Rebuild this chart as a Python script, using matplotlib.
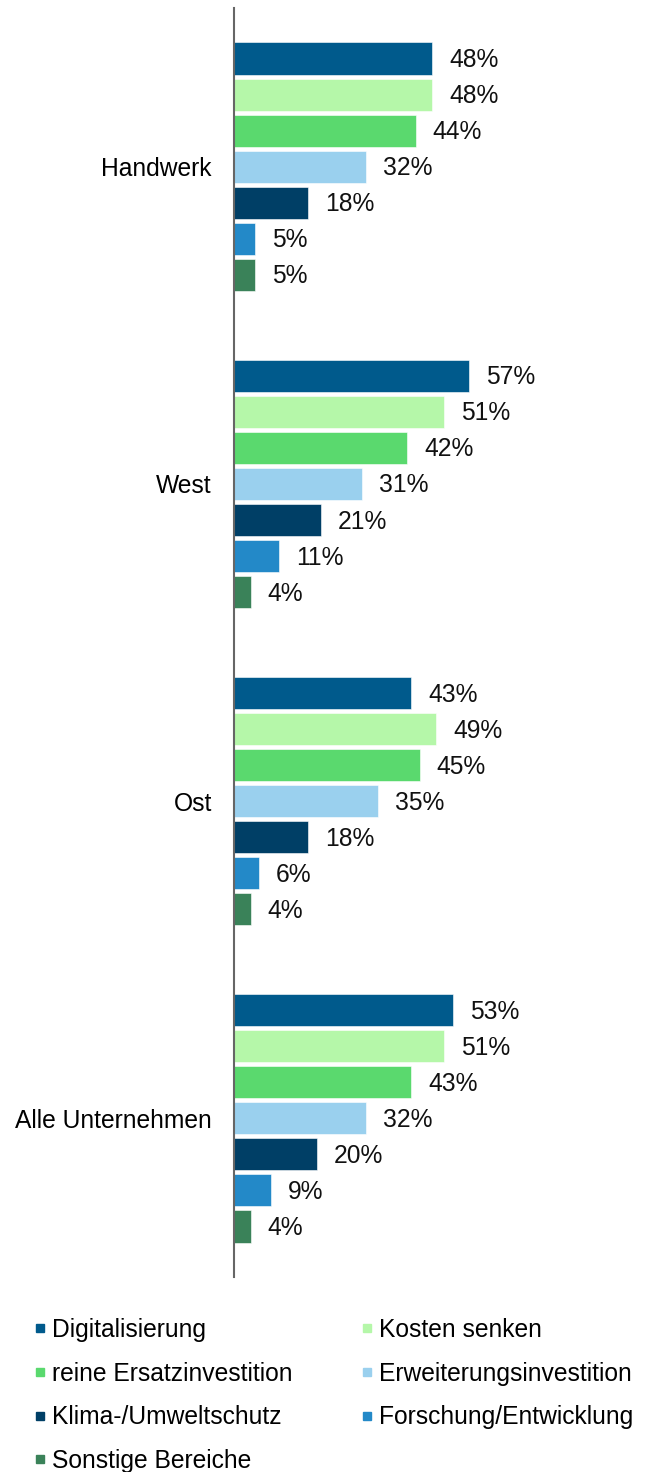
import matplotlib
matplotlib.use("Agg")
import matplotlib.pyplot as plt
from matplotlib.lines import Line2D
import numpy as np

plt.rcParams['font.family'] = ['Liberation Sans', 'DejaVu Sans']

categories = ["Handwerk", "West", "Ost", "Alle Unternehmen"]
series_names = ["Digitalisierung", "Kosten senken", "reine Ersatzinvestition",
                "Erweiterungsinvestition", "Klima-/Umweltschutz",
                "Forschung/Entwicklung", "Sonstige Bereiche"]
digitalisierung = [48, 57, 43, 53]
kosten_senken = [48, 51, 49, 51]
ersatz = [44, 42, 45, 43]
erweiterung = [32, 31, 35, 32]
klima = [18, 21, 18, 20]
forschung = [5, 11, 6, 9]
sonstige = [5, 4, 4, 4]
values = [digitalisierung, kosten_senken, ersatz, erweiterung, klima, forschung, sonstige]
colors = ["#005a8c", "#b5f7a9", "#5ad96e", "#9ad0ee", "#003f66", "#2389c8", "#3a8259"]

FS = 17.7
W, H = 645, 1472
fig = plt.figure(figsize=(W / 100, H / 100), dpi=100)
ax = fig.add_axes([234 / W, 1 - 1277 / H, (W - 234) / W, (1277 - 8) / H])

step = 0.1136
bh = 0.101
n = len(series_names)
y0 = np.arange(len(categories))
for i, (name, vals, c) in enumerate(zip(series_names, values, colors)):
    ys = y0 + (i - (n - 1) / 2) * step
    ax.barh(ys, vals, height=bh, color=c, edgecolor="white", linewidth=0.4, label=name)
    for y, v in zip(ys, vals):
        ax.text(v + 4.1, y + 0.005, f"{v}%", va="center", ha="left", fontsize=FS, color="#111111")

ax.set_xlim(0, (W - 234) / 4.125)
ax.set_ylim(len(categories) - 0.5, -0.5)
ax.set_yticks(y0)
ax.set_yticklabels(categories, fontsize=FS)
ax.tick_params(axis='y', length=0, pad=16)
ax.set_xticks([])
for s in ["top", "right", "bottom"]:
    ax.spines[s].set_visible(False)
ax.spines["left"].set_color("#666666")
ax.spines["left"].set_linewidth(1.5)

handles = [Line2D([], [], marker='s', linestyle='none', markersize=6,
                  markerfacecolor=c, markeredgecolor=c) for c in colors]
order = [0, 2, 4, 6, 1, 3, 5]
fig.legend([handles[i] for i in order], [series_names[i] for i in order],
           ncol=2, loc="upper left", bbox_to_anchor=(34 / W, 1 - 1318 / H),
           frameon=False, fontsize=FS, handlelength=0.5, handletextpad=0.25,
           labelspacing=0.8, columnspacing=2.75, borderaxespad=0, borderpad=0)

fig.savefig("out.png", dpi=100)
